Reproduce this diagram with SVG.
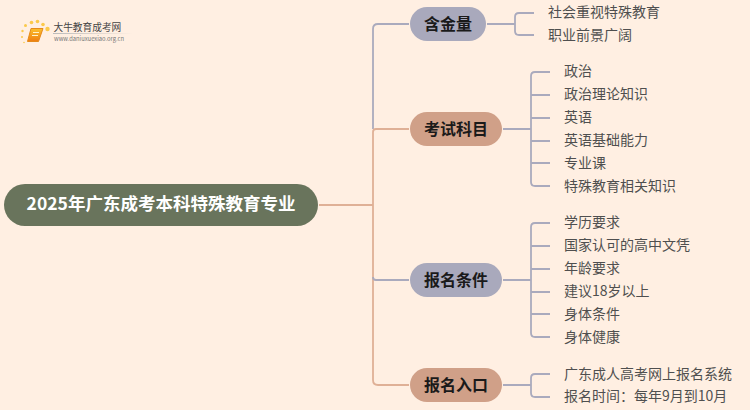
<svg xmlns="http://www.w3.org/2000/svg" width="750" height="410" viewBox="0 0 750 410">
<defs>
<linearGradient id="book" x1="0" y1="0" x2="0" y2="1"><stop offset="0" stop-color="#fbc02d"/><stop offset="1" stop-color="#ee7d10"/></linearGradient>
<linearGradient id="rule" x1="0" y1="0" x2="1" y2="0"><stop offset="0" stop-color="#bbb"/><stop offset="1" stop-color="#bbb" stop-opacity="0"/></linearGradient>
</defs>
<style>
text{font-family:"Noto Sans CJK SC","Liberation Sans",sans-serif}
.g{fill:none;stroke:#aaaabd;stroke-width:1.8}
.t{fill:none;stroke:#dfb096;stroke-width:1.8}
.leaf{font-size:14px;fill:#4f4f4f}
.b{font-size:16px;font-weight:700;fill:#1a1a1a;text-anchor:middle}
.dot{fill:#fbc94a}
</style>
<rect width="750" height="410" fill="#ffefe2"/>
<g id="logo">
<circle class="dot" cx="47.500" cy="29" r="2.200"/><circle class="dot" cx="43" cy="24.500" r="1.800"/><circle class="dot" cx="37.500" cy="21.500" r="1.800"/><circle class="dot" cx="31.500" cy="22.500" r="1.800"/><circle class="dot" cx="25.500" cy="25.500" r="1.500"/><circle class="dot" cx="22.500" cy="31" r="1.200"/><circle class="dot" cx="22" cy="37" r="1"/><circle class="dot" cx="24" cy="42.500" r="0.800"/>
<path d="M31 28.500H43L38.500 41.500H27.500Z" fill="url(#book)" stroke="#e58a1a" stroke-width="1"/>
<path d="M33 32.500H39M32 35.500H38" stroke="#fff2c8" stroke-width="1"/>
<text x="53.500" y="31" font-size="9.700" fill="#444">大牛教育成考网</text>
<rect x="53" y="33" width="80" height="1" fill="url(#rule)"/>
<text x="54" y="41" font-size="5.800" fill="#777" font-family="Liberation Sans">www.daniuxuexiao.org.cn</text>
</g>
<g id="connectors">
<path class="t" d="M319 205H373"/>
<path class="g" d="M409 24H378Q373 24 373 29V129"/>
<path class="t" d="M409 129H376Q373 129 373 132V380Q373 385 378 385H409"/>
<path class="g" d="M373 277Q373 280 376 280H409"/>
<path class="g" d="M487 24H515M534 13H519Q515 13 515 17V31Q515 35 519 35H534"/>
<path class="g" d="M503 129H531M550 72H535Q531 72 531 76V182Q531 186 535 186H550M531 95H550M531 118H550M531 141H550M531 163H550"/>
<path class="g" d="M503 280H531M550 223H535Q531 223 531 227V333Q531 337 535 337H550M531 246H550M531 269H550M531 292H550M531 314H550"/>
<path class="g" d="M503 385H531M550 374H535Q531 374 531 378V393Q531 397 535 397H550"/>
</g>
<g id="root"><rect x="4" y="184" width="314" height="42" rx="21" fill="#69745c"/><text x="161" y="210" font-size="17.500" font-weight="700" fill="#fff" text-anchor="middle">2025年广东成考本科特殊教育专业</text></g>
<g id="n1"><rect x="410" y="7" width="76" height="34" rx="17" fill="#a9a9bc"/><text class="b" x="448" y="29.500">含金量</text></g>
<g id="n2"><rect x="410" y="112" width="92" height="34" rx="17" fill="#d0a088"/><text class="b" x="456" y="134.500">考试科目</text></g>
<g id="n3"><rect x="410" y="263" width="92" height="34" rx="17" fill="#a9a9bc"/><text class="b" x="456" y="285.500">报名条件</text></g>
<g id="n4"><rect x="410" y="368" width="92" height="34" rx="17" fill="#d0a088"/><text class="b" x="456" y="390.500">报名入口</text></g>
<g id="leaves">
<text class="leaf" x="548" y="17">社会重视特殊教育</text>
<text class="leaf" x="548" y="40">职业前景广阔</text>
<text class="leaf" x="564" y="76">政治</text>
<text class="leaf" x="564" y="99">政治理论知识</text>
<text class="leaf" x="564" y="122">英语</text>
<text class="leaf" x="564" y="145">英语基础能力</text>
<text class="leaf" x="564" y="168">专业课</text>
<text class="leaf" x="564" y="190.500">特殊教育相关知识</text>
<text class="leaf" x="564" y="227">学历要求</text>
<text class="leaf" x="564" y="250">国家认可的高中文凭</text>
<text class="leaf" x="564" y="273">年龄要求</text>
<text class="leaf" x="564" y="296">建议18岁以上</text>
<text class="leaf" x="564" y="319">身体条件</text>
<text class="leaf" x="564" y="342">身体健康</text>
<text class="leaf" x="564" y="379">广东成人高考网上报名系统</text>
<text class="leaf" x="564" y="401">报名时间：每年9月到10月</text>
</g>
</svg>
